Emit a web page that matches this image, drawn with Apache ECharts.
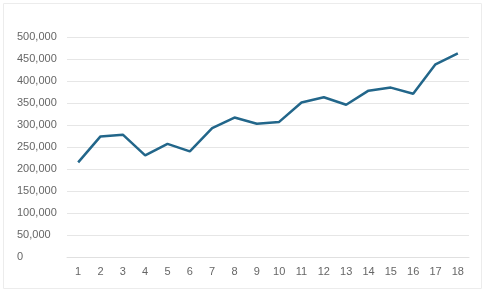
<!DOCTYPE html>
<html><head><meta charset="utf-8">
<style>html,body{margin:0;padding:0;background:#fff}#c{width:484px;height:294px}</style>
<script src="https://cdn.jsdelivr.net/npm/echarts@6/dist/echarts.min.js"></script>
</head><body><div id="c"></div>
<script>
var categories = ['1','2','3','4','5','6','7','8','9','10','11','12','13','14','15','16','17','18'];
var values = [215000,274000,278000,231000,257000,240000,293000,317000,303000,307000,351000,363000,346000,378000,385000,371000,438000,463000];
var chart = echarts.init(document.getElementById('c'), null, {renderer:'canvas'});
chart.setOption({
  animation:false,
  graphic:[{type:'rect',shape:{x:3.5,y:3.5,width:478,height:285},style:{fill:'none',stroke:'#ececec',lineWidth:1},silent:true}],
  grid:{left:67,right:15,top:37,bottom:37},
  xAxis:{type:'category',data:categories,boundaryGap:true,
    axisLine:{show:true,lineStyle:{color:'#e0e0e0'}},axisTick:{show:false},
    axisLabel:{color:'#666',fontSize:11,fontFamily:'Liberation Sans, Arial',margin:9}},
  yAxis:{type:'value',min:0,max:500000,interval:50000,
    axisLine:{show:false},axisTick:{show:false},
    splitLine:{lineStyle:{color:'#e6e6e6'}},
    axisLabel:{color:'#666',fontSize:11,fontFamily:'Liberation Sans, Arial',align:'left',margin:50,
      formatter:function(v){return v.toLocaleString('en-US');}}},
  series:[{type:'line',data:values,symbol:'none',lineStyle:{color:'#22668a',width:2.5},itemStyle:{color:'#22668a'}}]
});
</script></body></html>
